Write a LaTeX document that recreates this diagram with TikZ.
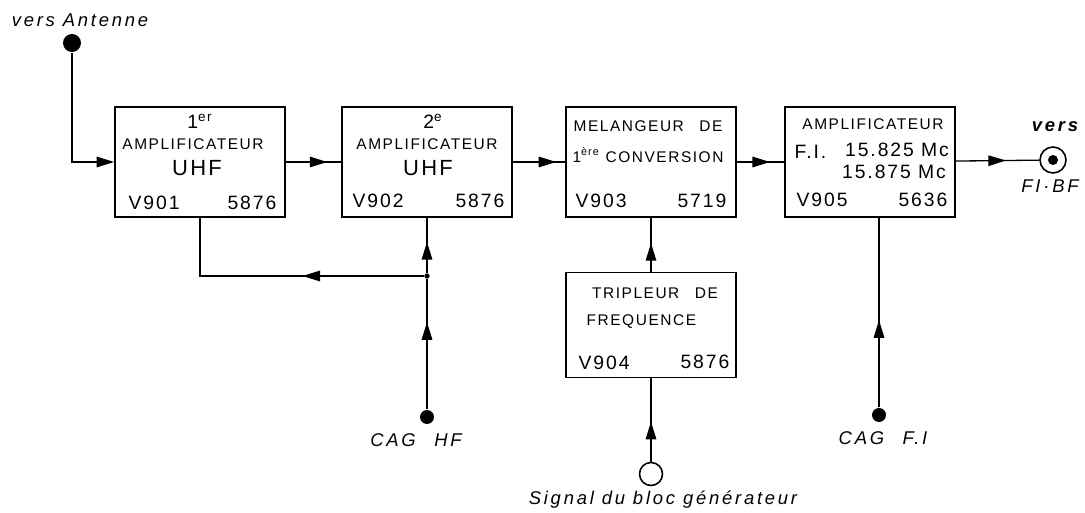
\documentclass[tikz,border=0pt]{standalone}
\usepackage{fontspec}
\setmainfont{Liberation Sans}
\newfontfamily\lettering[LetterSpace=10]{Liberation Sans}
\newfontfamily\hand[LetterSpace=15]{Liberation Sans}
\usetikzlibrary{arrows.meta,positioning,decorations.markings}

\begin{document}
\begin{tikzpicture}[x=0.02cm, y=-0.02cm,
    blk/.style={draw, line width=1pt, minimum width=3.4cm, minimum height=2.2cm},
    txt/.style={font=\lettering\fontsize{8.8}{10}\selectfont, inner sep=0pt},
    num/.style={font=\lettering\fontsize{11}{12}\selectfont, inner sep=0pt},
    big/.style={font=\lettering\fontsize{12.5}{14}\selectfont, inner sep=0pt},
    lbl/.style={font=\hand\itshape\fontsize{10.5}{12}\selectfont, inner sep=0pt},
    term/.style={circle, fill, inner sep=0pt, minimum size=0.28cm},
    arr/.style={-{Triangle[length=10pt,width=6pt]}},
    midarr/.style={postaction={decorate}, decoration={markings,
        mark=at position #1 with {\arrow{Triangle[length=10pt,width=6pt]}}}},
    line width=0.75pt
  ]
    \useasboundingbox (0,0) rectangle (1085,513);

    % blocs
    \node[blk] (amp1) at (200,162) {};
    \node[blk] (amp2) at (427,162) {};
    \node[blk] (mix) at (651,162) {};
    \node[blk] (fi) at (870,162) {};
    \node[blk, minimum height=2.1cm] (trip) at (651,325) {};

    \node[num] (amp1a) at (200,121) {1\textsuperscript{er}};
    \node[txt] (amp1b) at (193,144) {AMPLIFICATEUR};
    \node[big] (amp1c) at (197,168) {UHF};
    \node[num, anchor=west] (amp1d) at (128,203) {V901};
    \node[num, anchor=east] (amp1e) at (277,203) {5876};

    \node[num] (amp2a) at (433,121) {2\textsuperscript{e}};
    \node[txt] (amp2b) at (427,144) {AMPLIFICATEUR};
    \node[big] (amp2c) at (428,168) {UHF};
    \node[num, anchor=west] (amp2d) at (352,201) {V902};
    \node[num, anchor=east] (amp2e) at (505,201) {5876};

    \node[txt] (mixa) at (648,126) {MELANGEUR\quad DE};
    \node[txt] (mixb) at (648,155) {1\textsuperscript{ère} CONVERSION};
    \node[num, anchor=west] (mixc) at (575,201) {V903};
    \node[num, anchor=east] (mixd) at (727,201) {5719};

    \node[txt] (fia) at (873,124) {AMPLIFICATEUR};
    \node[num, anchor=west] (fib) at (794,152) {F.I.};
    \node[num] (fic) at (897,150) {15.825 Mc};
    \node[num] (fid) at (894,172) {15.875 Mc};
    \node[num, anchor=west] (fie) at (796,200) {V905};
    \node[num, anchor=east] (fif) at (948,200) {5636};

    \node[txt] (tripa) at (655,293) {TRIPLEUR\quad DE};
    \node[txt, anchor=west] (tripb) at (586,322) {FREQUENCE};
    \node[num, anchor=west] (tripc) at (578,363) {V904};
    \node[num, anchor=east] (tripd) at (730,362) {5876};

    % bornes
    \node[term, minimum size=0.36cm] (ant) at (72,43) {};
    \node[term] (caghf) at (427,417) {};
    \node[term] (cagfi) at (879,415) {};
    \node[circle, fill, inner sep=0pt, minimum size=3pt] (jn) at (427,276) {};
    \node[circle, draw, line width=0.9pt, inner sep=0pt, minimum size=0.46cm] (sig) at (651,474) {};
    \node[circle, draw, line width=0.9pt, inner sep=0pt, minimum size=0.52cm] (out) at (1053,160) {};
    \node[term, minimum size=0.2cm] (outc) at (out) {};

    \node[lbl] (antl) at (80,20) {vers Antenne};
    \node[lbl] (caghfl) at (416,440) {CAG\quad HF};
    \node[lbl] (cagfil) at (883,438) {CAG\quad F.I};
    \node[lbl] (sigl) at (663,500) {Signal du bloc générateur};
    \node[lbl, font=\hand\bfseries\itshape\fontsize{10.5}{12}\selectfont] (outl) at (1055,127) {vers};
    \node[lbl] (outm) at (1050,186) {FI·BF};

    % liaisons
    \draw[arr] (ant) |- (amp1.west);
    \draw[midarr=0.75] (amp1) -- (amp2);
    \draw[midarr=0.83] (amp2) -- (mix);
    \draw[midarr=0.7] (mix) -- (fi);
    \draw[midarr=0.6] (fi) -- (out);
    \draw[midarr=0.43] (jn) -| (amp1.south);
    \draw[midarr=0.56] (jn) -- (amp2.south);
    \draw[midarr=0.67] (caghf) -- (jn);
    \draw[midarr=0.53] (trip) -- (mix);
    \draw[midarr=0.48] (sig) -- (trip);
    \draw[midarr=0.46] (cagfi) -- (fi.south -| cagfi);
  \end{tikzpicture}
\end{document}
